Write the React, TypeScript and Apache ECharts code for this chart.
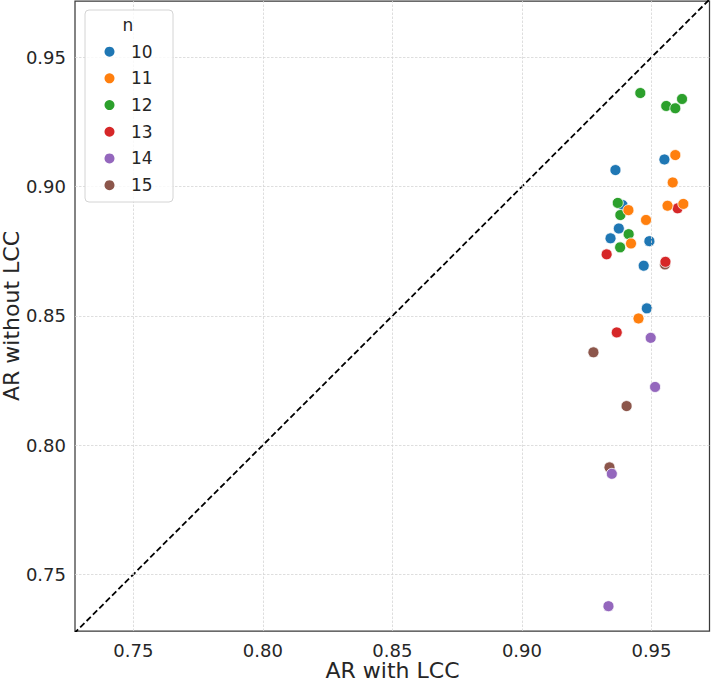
import React, { useEffect, useRef } from "react";
import * as echarts from "echarts";

// Group sizes shown in the legend and their colours
const groupNames = ["10", "11", "12", "13", "14", "15"];
const groupColors = ["#1f77b4", "#ff7f0e", "#2ca02c", "#d62728", "#9467bd", "#8c564b"];
// Stacking order of the groups (higher draws on top)
const groupZ = [4, 7, 6, 5, 8, 3];

// AR with LCC (x) / AR without LCC (y), one pair of arrays per n
const withLcc10 = [0.955, 0.9361, 0.9388, 0.9374, 0.9342, 0.9492, 0.947, 0.9482];
const withoutLcc10 = [0.9105, 0.9064, 0.8929, 0.8838, 0.88, 0.8789, 0.8694, 0.8529];

const withLcc11 = [0.9592, 0.9582, 0.9562, 0.9623, 0.9411, 0.9479, 0.9421, 0.945];
const withoutLcc11 = [0.9122, 0.9016, 0.8926, 0.8933, 0.8909, 0.8871, 0.878, 0.849];

const withLcc12 = [0.9457, 0.9557, 0.9592, 0.9618, 0.937, 0.938, 0.9412, 0.9379];
const withoutLcc12 = [0.9362, 0.9312, 0.9303, 0.9339, 0.8937, 0.889, 0.8816, 0.8765];

const withLcc13 = [0.9601, 0.9554, 0.9327, 0.9366];
const withoutLcc13 = [0.8916, 0.8709, 0.8738, 0.8436];

const withLcc14 = [0.9497, 0.9514, 0.9347, 0.9334];
const withoutLcc14 = [0.8415, 0.8225, 0.7889, 0.7377];

const withLcc15 = [0.9552, 0.9276, 0.9404, 0.9338];
const withoutLcc15 = [0.8699, 0.8359, 0.8151, 0.7914];

const groupX = [withLcc10, withLcc11, withLcc12, withLcc13, withLcc14, withLcc15];
const groupY = [withoutLcc10, withoutLcc11, withoutLcc12, withoutLcc13, withoutLcc14, withoutLcc15];

// Axis ticks and limits
const tickValues = [0.75, 0.8, 0.85, 0.9, 0.95];
const xLimits = [0.7275, 0.9724];
const yLimits = [0.7281, 0.9718];

const FONT = "DejaVu Sans";
const TEXT = "#262626";

export default function App() {
  const ref = useRef<HTMLDivElement>(null);

  useEffect(() => {
    if (!ref.current) return;
    const chart = echarts.init(ref.current, null, { renderer: "svg" });

    const gridLineStyle = { color: "#d6d6d6", width: 0.8, type: [2.5, 1.5] as number[] };

    const scatterSeries = groupNames.map((name, i) => ({
      name,
      type: "scatter",
      z: groupZ[i],
      symbol: "circle",
      symbolSize: 11,
      itemStyle: { color: groupColors[i], borderColor: "#ffffff", borderWidth: 0.8, opacity: 1 },
      data: groupX[i].map((x, j) => [x, groupY[i][j]]),
    }));

    const option: any = {
      animation: false,
      backgroundColor: "#ffffff",
      textStyle: { fontFamily: FONT },
      grid: {
        left: 75,
        right: 1.5,
        top: 1,
        bottom: 49,
        show: true,
        borderColor: "#3a3a3a",
        borderWidth: 1.25,
        backgroundColor: "#ffffff",
        containLabel: false,
        outerBoundsMode: "none",
      },
      xAxis: {
        type: "value",
        min: xLimits[0],
        max: xLimits[1],
        splitLine: { show: false },
        axisLine: { show: false },
        axisTick: { show: false },
        axisLabel: {
          customValues: tickValues,
          formatter: (v: number) => v.toFixed(2),
          fontSize: 18,
          lineHeight: 18,
          color: TEXT,
          fontFamily: FONT,
          margin: 10,
        },
      },
      yAxis: {
        type: "value",
        min: yLimits[0],
        max: yLimits[1],
        splitLine: { show: false },
        axisLine: { show: false },
        axisTick: { show: false },
        axisLabel: {
          customValues: tickValues,
          formatter: (v: number) => v.toFixed(2),
          fontSize: 18,
          color: TEXT,
          fontFamily: FONT,
          margin: 9,
        },
      },
      legend: {
        data: groupNames,
        orient: "vertical",
        left: 104.5,
        top: 42.8,
        padding: 0,
        itemWidth: 33,
        itemHeight: 10,
        itemGap: 9,
        icon: "circle",
        selectedMode: false,
        z: 20,
        itemStyle: { borderWidth: 0 },
        textStyle: { fontSize: 17, lineHeight: 17.7, color: TEXT, fontFamily: FONT },
      },
      graphic: [
        {
          type: "rect",
          z: 19,
          shape: { x: 85, y: 10, width: 88, height: 192, r: 4 },
          style: { fill: "rgba(255,255,255,0.8)", stroke: "#d4d4d4", lineWidth: 1 },
        },
        {
          type: "text",
          z: 21,
          x: 128,
          y: 25,
          style: { text: "n", fontSize: 17, fontFamily: FONT, fill: TEXT, align: "center", verticalAlign: "middle" },
        },
        {
          type: "text",
          x: 392.5,
          y: 670.5,
          style: {
            text: "AR with LCC",
            fontSize: 22,
            lineHeight: 18,
            fontFamily: FONT,
            fill: TEXT,
            align: "center",
            verticalAlign: "middle",
          },
        },
        {
          type: "text",
          x: 11,
          y: 316,
          rotation: Math.PI / 2,
          style: { text: "AR without LCC", fontSize: 22, fontFamily: FONT, fill: TEXT, align: "center", verticalAlign: "middle" },
        },
      ],
      series: [
        {
          name: "identity",
          type: "line",
          z: 2,
          silent: true,
          symbol: "none",
          clip: true,
          data: [
            [0.7, 0.7],
            [1, 1],
          ],
          lineStyle: { color: "#000000", width: 1.8, type: [6, 3] },
          markLine: {
            silent: true,
            symbol: "none",
            label: { show: false },
            lineStyle: gridLineStyle,
            data: [
              ...tickValues.map((v) => ({ xAxis: v })),
              ...tickValues.map((v) => ({ yAxis: v })),
            ],
          },
        },
        ...scatterSeries,
      ],
    };

    chart.setOption(option);
    return () => chart.dispose();
  }, []);

  return (
    <div
      ref={ref}
      style={{ position: "fixed", left: 0, top: 0, width: 711, height: 680 }}
    />
  );
}
